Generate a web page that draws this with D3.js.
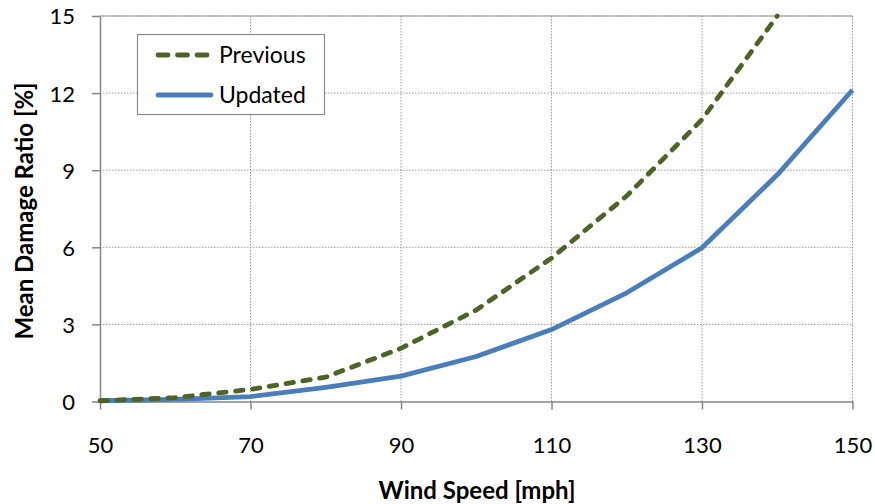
<!DOCTYPE html>
<html>
<head>
<meta charset="utf-8">
<script src="https://cdn.jsdelivr.net/npm/d3@7"></script>
<style>
  body { margin: 0; background: #fff; }
  svg { display: block; }
  text { font-family: Lato, "Liberation Sans", sans-serif; }
</style>
</head>
<body>
<svg id="chart" width="875" height="504"></svg>
<script>
// wind speed in mph
var speeds = [50, 60, 70, 80, 90, 100, 110, 120, 130, 140, 150];
// mean damage ratio in %
var previous = [0.03, 0.15, 0.47, 0.95, 2.07, 3.56, 5.58, 8.0, 10.97, 15.0];
var updated = [0.03, 0.08, 0.19, 0.55, 0.99, 1.75, 2.8, 4.23, 5.98, 8.82, 12.12];
var xTicks = [50, 70, 90, 110, 130, 150];
var yTicks = [0, 3, 6, 9, 12, 15];
var seriesNames = ["Previous", "Updated"];

var svg = d3.select("#chart");
var plotLeft = 100, plotRight = 852.5, plotTop = 16, plotBottom = 401.5;

var x = d3.scaleLinear().domain([50, 150]).range([plotLeft, plotRight]);
var y = d3.scaleLinear().domain([0, 15]).range([plotBottom, plotTop]);

var grid = svg.append("g");
grid.selectAll(".vg").data(xTicks.slice(1)).enter().append("line")
    .attr("x1", function(d) { return x(d); })
    .attr("x2", function(d) { return x(d); })
    .attr("y1", plotTop).attr("y2", plotBottom)
    .attr("stroke", "#9a9a9a").attr("stroke-width", 1)
    .attr("stroke-dasharray", "1.5,1.5");
grid.selectAll(".hg").data(yTicks.slice(1)).enter().append("line")
    .attr("x1", plotLeft).attr("x2", plotRight)
    .attr("y1", function(d) { return y(d); })
    .attr("y2", function(d) { return y(d); })
    .attr("stroke", "#9a9a9a").attr("stroke-width", 1)
    .attr("stroke-dasharray", "1.5,1.5");
// plot border top
svg.append("line").attr("x1", plotLeft).attr("x2", plotRight)
    .attr("y1", plotTop).attr("y2", plotTop)
    .attr("stroke", "#9a9a9a").attr("stroke-width", 1.2);

var xAxis = svg.append("g")
    .attr("transform", "translate(0," + plotBottom + ")")
    .call(d3.axisBottom(x).tickValues(xTicks).tickSize(8).tickPadding(28).tickSizeOuter(0));
var yAxis = svg.append("g")
    .attr("transform", "translate(" + plotLeft + ",0)")
    .call(d3.axisLeft(y).tickValues(yTicks).tickSize(8).tickPadding(17).tickSizeOuter(0));

[xAxis, yAxis].forEach(function(a) {
    a.select(".domain").attr("stroke", "#868686").attr("stroke-width", 1.5);
    a.selectAll(".tick line").attr("stroke", "#868686").attr("stroke-width", 1.5);
    a.selectAll("text").attr("font-size", 22).attr("fill", "#000")
        .attr("font-family", "Lato, 'Liberation Sans', sans-serif");
});
yAxis.selectAll("text").attr("dy", "0.36em");

var line = d3.line()
    .x(function(d, i) { return x(speeds[i]); })
    .y(function(d) { return y(d); });

svg.append("path").datum(updated)
    .attr("d", line)
    .attr("fill", "none")
    .attr("stroke", "#4a7ebb")
    .attr("stroke-width", 4.8)
    .attr("stroke-linejoin", "round");

svg.append("path").datum(previous)
    .attr("d", line)
    .attr("fill", "none")
    .attr("stroke", "#4f6228")
    .attr("stroke-width", 4.8)
    .attr("stroke-dasharray", "7.5,9.5")
    .attr("stroke-linecap", "round")
    .attr("stroke-linejoin", "round");

// legend
var lg = svg.append("g");
lg.append("rect").attr("x", 137.5).attr("y", 34.5).attr("width", 187).attr("height", 80)
    .attr("fill", "#fff").attr("stroke", "#8c8c8c").attr("stroke-width", 1.2);
var legendStyles = [
    { color: "#4f6228", dash: "10,9.5" },
    { color: "#4a7ebb", dash: null }
];
seriesNames.forEach(function(name, i) {
    var ly = 55 + i * 40;
    lg.append("line").attr("x1", 158).attr("x2", 211).attr("y1", ly).attr("y2", ly)
        .attr("stroke", legendStyles[i].color).attr("stroke-width", 4.8)
        .attr("stroke-linecap", "round")
        .attr("stroke-dasharray", legendStyles[i].dash);
    lg.append("text").attr("x", 219).attr("y", ly).attr("dy", "0.36em")
        .attr("font-size", 23).text(name);
});

svg.append("text").attr("x", 477).attr("y", 490).attr("dy", "0.36em")
    .attr("text-anchor", "middle").attr("font-weight", "bold").attr("font-size", 24)
    .text("Wind Speed [mph]");
svg.append("text").attr("transform", "translate(24,211) rotate(-90)").attr("dy", "0.36em")
    .attr("text-anchor", "middle").attr("font-weight", "bold").attr("font-size", 24)
    .text("Mean Damage Ratio [%]");
</script>
</body>
</html>
